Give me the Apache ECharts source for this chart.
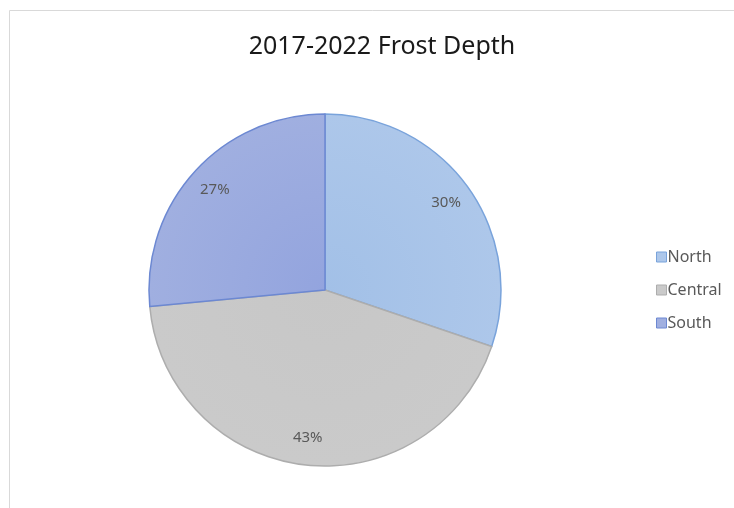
<!DOCTYPE html>
<html>
<head>
<meta charset="utf-8">
<script src="https://cdn.jsdelivr.net/npm/echarts@6/dist/echarts.min.js"></script>
<style>html,body{margin:0;padding:0;background:#fff}#c{width:734px;height:508px}</style>
</head>
<body>
<div id="c"></div>
<script>
const categories = ['North', 'Central', 'South'];
const values = [30.2, 43.3, 26.5];
const centerColors = ['#a2c0e7', '#c7c7c7', '#93a4de'];
const edgeColors = ['#adc7ea', '#cacaca', '#a0afe0'];
const borderColors = ['#79a3db', '#adadad', '#6c88d2'];

const chart = echarts.init(document.getElementById('c'));
const cx = 325, cy = 290, R = 176;
function grad(i) {
  return new echarts.graphic.RadialGradient(cx, cy, R, [
    { offset: 0, color: centerColors[i] },
    { offset: 1, color: edgeColors[i] }
  ], true);
}
const pieData = categories.map((n, i) => ({
  name: n, value: values[i],
  itemStyle: { color: grad(i), borderColor: borderColors[i], borderWidth: 1.5 }
}));
const labelData = categories.map((n, i) => ({ name: n, value: values[i] }));
chart.setOption({
  animation: false,
  color: centerColors,
  title: {
    text: '2017-2022 Frost Depth',
    left: 377, top: 29, textAlign: 'center',
    textStyle: { fontFamily: 'Noto Sans', fontWeight: 'normal', fontSize: 25, color: '#1a1a1a' }
  },
  graphic: [{
    type: 'rect', silent: true, z: -1,
    shape: { x: 9.5, y: 10.5, width: 760, height: 520 },
    style: { fill: 'none', stroke: '#d9d9d9', lineWidth: 1 }
  }],
  legend: {
    orient: 'vertical', left: 651, top: 244,
    itemWidth: 10, itemHeight: 10, itemGap: 17,
    icon: 'rect',
    data: categories.map((n, i) => ({ name: n, itemStyle: { color: edgeColors[i], borderColor: borderColors[i], borderWidth: 1 } })),
    textStyle: { fontFamily: 'Noto Sans', fontSize: 16, color: '#595959', padding: [0, 0, 0, -4] }
  },
  series: [{
    type: 'pie', center: [cx, cy], radius: [0, R], startAngle: 90, clockwise: true,
    label: { show: false }, labelLine: { show: false },
    emphasis: { disabled: true },
    data: pieData
  }, {
    type: 'pie', center: [cx, cy], radius: [116, R], startAngle: 90, clockwise: true,
    silent: true, z: 3,
    itemStyle: { color: 'rgba(0,0,0,0)', borderWidth: 0 },
    label: { show: true, position: 'inside', formatter: p => Math.round(p.percent) + '%',
      fontFamily: 'Noto Sans', fontSize: 15, color: '#595959' },
    labelLine: { show: false },
    emphasis: { disabled: true },
    data: labelData
  }]
});
</script>
</body>
</html>
